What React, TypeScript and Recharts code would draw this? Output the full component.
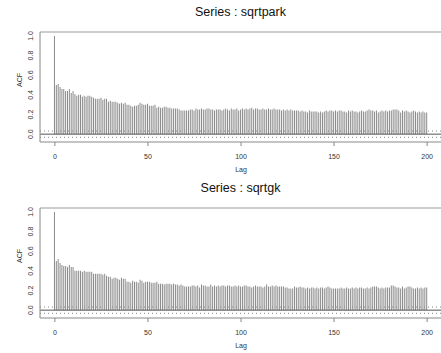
import React from 'react';
import {
  ComposedChart,
  Bar,
  XAxis,
  YAxis,
  ReferenceLine,
} from 'recharts';

// ACF estimates, lag 0..200
const PARK_ACF = [
  1.0, 0.5, 0.51, 0.48, 0.46, 0.46, 0.44, 0.44, 0.46, 0.42, 0.44,
  0.41, 0.39, 0.4, 0.4, 0.38, 0.39, 0.38, 0.39, 0.39, 0.38,
  0.37, 0.36, 0.36, 0.36, 0.37, 0.35, 0.36, 0.36, 0.33, 0.34,
  0.33, 0.33, 0.33, 0.32, 0.31, 0.32, 0.31, 0.32, 0.3, 0.3,
  0.29, 0.28, 0.29, 0.29, 0.3, 0.32, 0.31, 0.3, 0.3, 0.31,
  0.29, 0.29, 0.29, 0.3, 0.27, 0.28, 0.27, 0.27, 0.28, 0.28,
  0.27, 0.27, 0.26, 0.26, 0.26, 0.26, 0.25, 0.24, 0.24, 0.24,
  0.24, 0.24, 0.25, 0.25, 0.24, 0.26, 0.25, 0.25, 0.26, 0.25,
  0.25, 0.26, 0.26, 0.25, 0.25, 0.24, 0.25, 0.25, 0.25, 0.24,
  0.25, 0.26, 0.25, 0.24, 0.26, 0.25, 0.25, 0.26, 0.24, 0.25,
  0.26, 0.25, 0.26, 0.25, 0.26, 0.27, 0.25, 0.26, 0.26, 0.25,
  0.25, 0.26, 0.25, 0.25, 0.26, 0.25, 0.25, 0.26, 0.25, 0.25,
  0.25, 0.24, 0.25, 0.24, 0.25, 0.24, 0.25, 0.24, 0.24, 0.24,
  0.24, 0.23, 0.24, 0.23, 0.23, 0.22, 0.24, 0.23, 0.23, 0.23,
  0.23, 0.22, 0.23, 0.22, 0.23, 0.24, 0.23, 0.24, 0.24, 0.23,
  0.24, 0.23, 0.24, 0.24, 0.23, 0.23, 0.22, 0.24, 0.23, 0.24,
  0.23, 0.23, 0.22, 0.23, 0.24, 0.23, 0.23, 0.24, 0.25, 0.24,
  0.24, 0.23, 0.24, 0.22, 0.23, 0.24, 0.23, 0.24, 0.23, 0.24,
  0.24, 0.25, 0.25, 0.25, 0.24, 0.22, 0.24, 0.23, 0.24, 0.23,
  0.22, 0.23, 0.24, 0.23, 0.22, 0.23, 0.22, 0.23, 0.22, 0.22,
];

const GK_ACF = [
  1.0, 0.5, 0.52, 0.48, 0.46, 0.45, 0.45, 0.44, 0.46, 0.44, 0.44,
  0.4, 0.4, 0.4, 0.4, 0.39, 0.4, 0.39, 0.39, 0.39, 0.39,
  0.37, 0.37, 0.37, 0.37, 0.37, 0.36, 0.37, 0.35, 0.34, 0.34,
  0.32, 0.33, 0.33, 0.32, 0.31, 0.33, 0.32, 0.32, 0.29, 0.29,
  0.28, 0.3, 0.29, 0.29, 0.28, 0.31, 0.3, 0.28, 0.29, 0.29,
  0.29, 0.28, 0.28, 0.28, 0.29, 0.27, 0.27, 0.27, 0.26, 0.27,
  0.27, 0.27, 0.26, 0.27, 0.26, 0.26, 0.25, 0.26, 0.25, 0.24,
  0.24, 0.24, 0.24, 0.25, 0.25, 0.24, 0.25, 0.23, 0.26, 0.25,
  0.25, 0.24, 0.24, 0.26, 0.24, 0.25, 0.24, 0.25, 0.24, 0.25,
  0.25, 0.24, 0.25, 0.25, 0.24, 0.24, 0.25, 0.24, 0.25, 0.24,
  0.24, 0.25, 0.25, 0.24, 0.24, 0.23, 0.24, 0.25, 0.24, 0.24,
  0.24, 0.23, 0.24, 0.26, 0.24, 0.24, 0.25, 0.24, 0.25, 0.24,
  0.24, 0.24, 0.24, 0.23, 0.23, 0.22, 0.22, 0.22, 0.24, 0.23,
  0.23, 0.24, 0.23, 0.23, 0.22, 0.23, 0.22, 0.23, 0.23, 0.22,
  0.23, 0.22, 0.23, 0.23, 0.22, 0.23, 0.24, 0.23, 0.22, 0.22,
  0.22, 0.22, 0.22, 0.23, 0.22, 0.22, 0.23, 0.22, 0.22, 0.23,
  0.22, 0.23, 0.22, 0.23, 0.23, 0.22, 0.22, 0.23, 0.22, 0.23,
  0.24, 0.24, 0.24, 0.23, 0.22, 0.23, 0.22, 0.23, 0.23, 0.23,
  0.25, 0.25, 0.24, 0.23, 0.23, 0.22, 0.24, 0.22, 0.23, 0.24,
  0.24, 0.23, 0.22, 0.22, 0.23, 0.22, 0.23, 0.22, 0.23, 0.23,
];

const X_TICKS = [0, 50, 100, 150, 200];
const Y_TICKS = [0, 0.2, 0.4, 0.6, 0.8, 1.0];
const CI = 0.032;

const FONT = '"Liberation Sans", Arial, sans-serif';
const Y_MIN = -0.08;
const Y_MAX = 1.04;

const YTick = ({ y, payload }: any) => {
  const x = 33;
  return (
    <text
      x={x}
      y={y}
      transform={`rotate(-90, ${x}, ${y})`}
      textAnchor="middle"
      fontSize={7}
      fontFamily={FONT}
      fill="#333"
    >
      {Number(payload.value).toFixed(1)}
    </text>
  );
};

const XTick = ({ x, y, payload }: any) => (
  <text x={x} y={y + 5} textAnchor="middle" fontSize={7} fontFamily={FONT} fill="#333" stroke="none">
    {payload.value}
  </text>
);

const AcfPanel = ({ title, values, top }: { title: string; values: number[]; top: number }) => {
  const data = values.map((acf, lag) => ({ lag, acf }));
  return (
    <div style={{ position: 'absolute', left: 0, top, width: 441, height: 176, overflow: 'hidden' }}>
      <div
        style={{
          position: 'absolute',
          left: 40,
          width: 401,
          top: 5,
          textAlign: 'center',
          fontFamily: FONT,
          fontSize: 12.5,
          color: '#111',
        }}
      >
        {title}
      </div>
      <ComposedChart
        width={442}
        height={176}
        data={data}
        margin={{ top: 32, right: 0, bottom: 0, left: 0 }}
      >
        <XAxis
          dataKey="lag"
          type="number"
          domain={[-8, 208]}
          ticks={X_TICKS}
          interval={0}
          allowDataOverflow
          height={34}
          tickSize={4}
          tickMargin={8}
          stroke="#888"
          tick={<XTick />}
          label={{ value: 'Lag', position: 'insideBottom', offset: 4, fontSize: 7, fontFamily: FONT, fill: '#333' }}
        />
        <YAxis
          type="number"
          domain={[Y_MIN, Y_MAX]}
          ticks={Y_TICKS}
          interval={0}
          allowDataOverflow
          width={40}
          tickLine={false}
          stroke="#888"
          tick={<YTick />}
          label={{ value: 'ACF', angle: -90, position: 'insideLeft', offset: 20, fontSize: 7, fontFamily: FONT, fill: '#333' }}
        />
        <ReferenceLine y={Y_MAX} stroke="#999" />
        <ReferenceLine y={CI} stroke="#888" strokeDasharray="1 3" />
        <ReferenceLine y={-CI} stroke="#888" strokeDasharray="1 3" />
        <Bar dataKey="acf" fill="#8a8a8a" barSize={1} isAnimationActive={false} />
        <ReferenceLine y={0} stroke="#555" />
      </ComposedChart>
    </div>
  );
};

export default function App() {
  return (
    <div style={{ position: 'absolute', left: 0, top: 0, width: 441, height: 353, background: '#fff' }}>
      <AcfPanel title="Series : sqrtpark" values={PARK_ACF} top={0} />
      <AcfPanel title="Series : sqrtgk" values={GK_ACF} top={176} />
    </div>
  );
}
